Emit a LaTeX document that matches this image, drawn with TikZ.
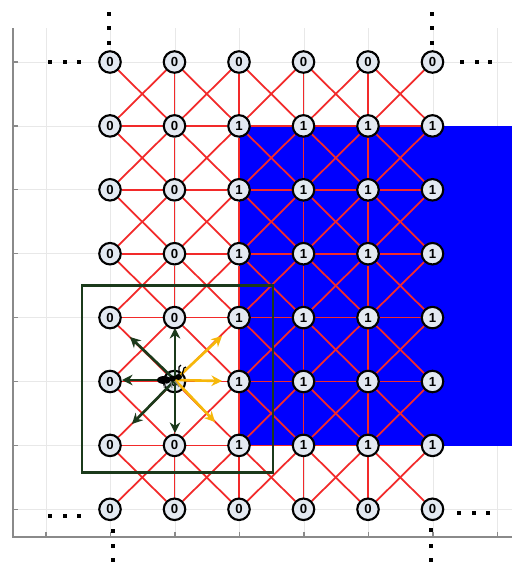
\documentclass[tikz,border=0pt]{standalone}
\usepackage{fontspec}
\usepackage{tikz}
\usetikzlibrary{arrows.meta,backgrounds}
\newfontfamily\cellfont{Liberation Sans}
\definecolor{cellfill}{HTML}{E3E9F1}
\definecolor{edgered}{HTML}{F22A2A}
\definecolor{wall}{HTML}{0000FF}
\definecolor{moss}{HTML}{1B3A1B}
\definecolor{amber}{HTML}{F6B70A}
\definecolor{gridgray}{HTML}{E8E8E8}
\definecolor{axisgray}{HTML}{8A8A8A}
\tikzset{
  >={Stealth[length=6pt,width=6pt]},
  cell/.style={circle,draw=black,line width=1.2pt,fill=cellfill,minimum size=0.43cm,inner sep=0pt,font=\cellfont\bfseries\fontsize{7.5}{7.5}\selectfont},
  link/.style={edgered,line width=1pt},
  dotbox/.style={fill=black},
}
\begin{document}
\begin{tikzpicture}[x=0.02cm,y=-0.02cm,
  seen/.style={->,moss,line width=1.5pt},
  food/.style={->,amber,line width=1.5pt}]
  \useasboundingbox (0,0) rectangle (512,562);
  \foreach \i in {0,...,5}
    \foreach \j in {0,...,7}{
      \pgfmathsetmacro\px{110+64.5*\i}
      \pgfmathsetmacro\py{62+63.9*\j}
      \pgfmathtruncatemacro\lab{(\i>1)*(\j>0)*(\j<7)}
      \node[cell] (n-\i-\j) at (\px,\py) {\lab};
    }
  \begin{scope}[on background layer]
    \fill[white] (0,0) rectangle (512,562);
    \foreach \g in {0,...,7}
      \draw[gridgray] ({46+64.5*\g},28) -- ({46+64.5*\g},537);
    \foreach \g in {0,...,7}
      \draw[gridgray] (13,{62+63.9*\g}) -- (512,{62+63.9*\g});
    \foreach \g in {0,...,7}{
      \draw[axisgray,line width=0.7pt] ({46+64.5*\g},537) -- ({46+64.5*\g},532);
      \draw[axisgray,line width=0.7pt] (13,{62+63.9*\g}) -- (18,{62+63.9*\g});
    }
    \draw[axisgray,line width=0.9pt] (13,28) -- (13,537) -- (512,537);
    \fill[wall] (239,126) rectangle (512,446);
    \foreach \i in {0,...,4}{
      \pgfmathtruncatemacro\k{\i+1}
      \foreach \j in {0,...,6}{
        \pgfmathtruncatemacro\m{\j+1}
        \draw[link] (n-\i-\j) -- (n-\k-\m);
        \draw[link] (n-\k-\j) -- (n-\i-\m);
      }
      \foreach \j in {1,...,6}
        \draw[link] (n-\i-\j) -- (n-\k-\j);
    }
    \foreach \i in {1,...,4}
      \foreach \j in {0,...,6}{
        \pgfmathtruncatemacro\m{\j+1}
        \draw[link] (n-\i-\j) -- (n-\i-\m);
      }
  \end{scope}
  \foreach \x/\y in {50/62,65/62,79/62,109/14,109/28,109/43,432/14,432/28,432/43,
    462/62,477/62,490/62,50/516,65/516,79/516,113/531,113/546,113/560,
    459/513,474/513,488/513,431/530,431/546,431/560}
    \fill[dotbox,shift={(\x,\y)}] (-2,-2) rectangle (2,2);
  \draw[moss,line width=1.7pt] (82,285) rectangle (273,472);
  \coordinate (hub) at (175,380);
  \coordinate (goN) at (175,328);
  \coordinate (goNW) at (130,337);
  \coordinate (goW) at (122,380);
  \coordinate (goSW) at (132,424);
  \coordinate (goS) at (175,433);
  \coordinate (goNE) at (222,336);
  \coordinate (goE) at (222,381);
  \coordinate (goSE) at (215,422);
  \foreach \t in {goN,goNW,goW,goSW,goS}
    \draw[seen] (hub) -- (\t);
  \foreach \t in {goNE,goE,goSE}
    \draw[food] (hub) -- (\t);
  \fill (164,380) ellipse (7 and 4);
  \fill (172.5,378.5) ellipse (3.5 and 3);
  \fill (178.5,377) ellipse (3.5 and 3);
  \draw[line width=0.7pt] (179,375) -- (179,367) -- (181,365);
  \draw[line width=0.7pt] (182,375) -- (184,368) -- (186,367);
  \draw[gray,line width=0.6pt] (166,383) -- (164,388) (171,382) -- (172,388) (175,381) -- (179,387);
\end{tikzpicture}
\end{document}
